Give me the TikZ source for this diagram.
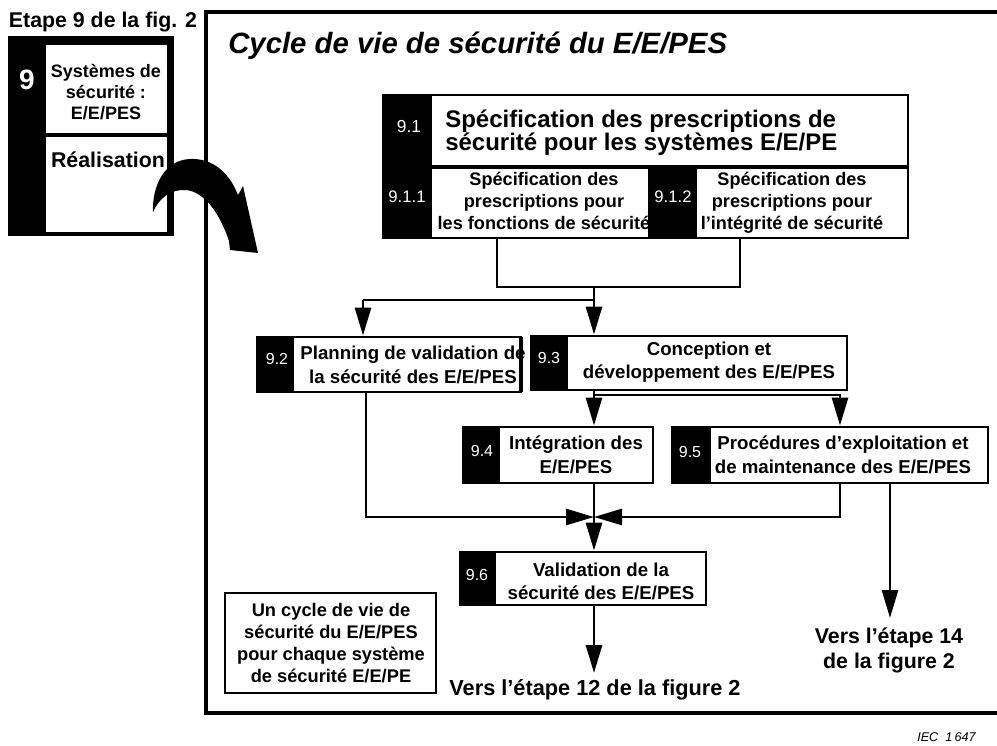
\documentclass[tikz,border=0pt]{standalone}
\usepackage{fontspec}
\setmainfont{Liberation Sans}
\usetikzlibrary{fit,arrows.meta}
\lineskiplimit=-100pt
\lineskip=0pt
\begin{document}
\begin{tikzpicture}[x=0.75pt,y=-0.75pt,
  wbox/.style={draw=black, fill=white, line width=2.2pt, inner sep=0pt},
  bbox/.style={draw=black, fill=black, line width=2.2pt, inner sep=0pt},
  num/.style={text=white, font=\fontsize{12}{14}\selectfont, inner sep=0pt},
  txt/.style={font=\bfseries\fontsize{14}{17.25}\selectfont, align=center, inner sep=0pt},
  conn/.style={line width=2.1pt},
  arr/.style={line width=2.1pt, -{Triangle[length=21pt,width=12pt]}},
]
\useasboundingbox (0,0) rectangle (997,746);

% outer frame
\node[draw=black, line width=2.4pt, inner sep=0pt, fit={(206,12) (1012,713)}] (frame) {};

% left block (step 9 of fig. 2)
\node[font=\bfseries\fontsize{16}{18}\selectfont, inner sep=0pt] (etape) at (103,22) {Etape 9 de la fig. 2};
\node[bbox, fit={(9,37) (173,235)}] (n9) {};
\node[fill=white, inner sep=0pt, fit={(46,45) (167,133)}] (n9a) {};
\node[fill=white, inner sep=0pt, fit={(46,137) (167,232)}] (n9b) {};
\node[text=white, font=\bfseries\fontsize{21}{24}\selectfont, inner sep=0pt] (l9) at (27,80) {9};
\node[font=\bfseries\fontsize{13.5}{15.75}\selectfont, align=center, inner sep=0pt] (t9a) at (106,92) {Systèmes de\\sécurité :\\E/E/PES};
\node[font=\bfseries\fontsize{16}{18}\selectfont, inner sep=0pt] (t9b) at (108,160) {Réalisation};

% big curved arrow
\fill[black] (153,212) .. controls (152,185) and (165,160) .. (190,159)
  .. controls (212,158) and (229,172) .. (238,195) -- (243,186) -- (258,253)
  -- (230,250) -- (229,241) .. controls (220,214) and (205,192) .. (186,190)
  .. controls (171,189) and (159,198) .. (153,212) -- cycle;

% title
\node[anchor=west, font=\bfseries\itshape\fontsize{22}{26}\selectfont, inner sep=0pt] (title) at (228,46) {Cycle de vie de sécurité du E/E/PES};

% 9.1
\node[wbox, fit={(383,95) (908,238)}] (n91) {};
\node[bbox, fit={(383,95) (431,238)}] (l91) {};
\node[bbox, fit={(383,166) (908,168)}] (d91) {};
\node[bbox, fit={(649,167) (696,238)}] (l912) {};
\node[text=white, font=\fontsize{13}{15}\selectfont, inner sep=0pt] (k91) at (409,127) {9.1};
\node[text=white, font=\fontsize{12.5}{15}\selectfont, inner sep=0pt] (k911) at (407,197) {9.1.1};
\node[text=white, font=\fontsize{12.5}{15}\selectfont, inner sep=0pt] (k912) at (673,197) {9.1.2};
\node[anchor=west, align=left, font=\bfseries\fontsize{18}{17.25}\selectfont, inner sep=0pt] (t91) at (445,133) {Spécification des prescriptions de\\sécurité pour les systèmes E/E/PE};
\node[align=center, font=\bfseries\fontsize{13.6}{16.5}\selectfont, inner sep=0pt] (t911) at (544,201) {Spécification des\\prescriptions pour\\les fonctions de sécurité};
\node[align=center, font=\bfseries\fontsize{13.6}{16.5}\selectfont, inner sep=0pt] (t912) at (792,203) {Spécification des\\prescriptions pour\\l'intégrité de sécurité};

% 9.2
\node[wbox, fit={(257,337) (521,392)}] (n92) {};
\node[bbox, fit={(257,337) (293,392)}] (l92) {};
\node[num] (k92) at (277,359) {9.2};
\node[txt, font=\bfseries\fontsize{14}{18}\selectfont] (t92) at (413,365) {Planning de validation de\\la sécurité des E/E/PES};
\fill[black] (519,337) rectangle (523,392);

% 9.3
\node[wbox, fit={(531,336) (847,390)}] (n93) {};
\node[bbox, fit={(531,336) (567,390)}] (l93) {};
\node[num] (k93) at (549,358) {9.3};
\node[txt] (t93) at (709,362) {Conception et\\développement des E/E/PES};

% 9.4
\node[wbox, fit={(463,427) (653,483)}] (n94) {};
\node[bbox, fit={(463,427) (499,483)}] (l94) {};
\node[num] (k94) at (482,451) {9.4};
\node[txt, font=\bfseries\fontsize{14}{18}\selectfont] (t94) at (576,455) {Intégration des\\E/E/PES};

% 9.5
\node[wbox, fit={(672,427) (988,483)}] (n95) {};
\node[bbox, fit={(672,427) (710,483)}] (l95) {};
\node[num] (k95) at (690,452) {9.5};
\node[txt, font=\bfseries\fontsize{14}{18}\selectfont] (t95) at (843,455) {Procédures d'exploitation et\\de maintenance des E/E/PES};

% 9.6
\node[wbox, fit={(460,552) (706,605)}] (n96) {};
\node[bbox, fit={(460,552) (495,605)}] (l96) {};
\node[num] (k96) at (477,575) {9.6};
\node[txt] (t96) at (601,581) {Validation de la\\sécurité des E/E/PES};

% note box
\node[wbox, fit={(225,593) (436,693)}] (note) {};
\node[align=center, font=\bfseries\fontsize{13.7}{16.5}\selectfont, inner sep=0pt] (tnote) at (331,643) {Un cycle de vie de\\sécurité du E/E/PES\\pour chaque système\\de sécurité E/E/PE};

% exits
\node[font=\bfseries\fontsize{16.3}{19}\selectfont, inner sep=0pt] (v12) at (595,690) {Vers l'étape 12 de la figure 2};
\node[align=center, font=\bfseries\fontsize{16}{18.75}\selectfont, inner sep=0pt] (v14) at (889,650) {Vers l'étape 14\\de la figure 2};
\node[anchor=west, font=\itshape\fontsize{9.5}{11}\selectfont, inner sep=0pt] (iec) at (917,737) {IEC\ \ 1\,647};

% junction coordinates
\coordinate (L1) at (497,287);
\coordinate (R1) at (740,287);
\coordinate (J1) at (594,287);
\coordinate (J2) at (594,300);
\coordinate (S2) at (363,300);
\coordinate (J3) at (594,395);
\coordinate (R3) at (840,395);
\coordinate (X)  at (594,517);
\coordinate (L2) at (366,517);
\coordinate (R5) at (840,517);
\coordinate (R6) at (890,618);
\coordinate (E12) at (594,673);

% connectors
\draw[conn] (n91.south -| L1) -- (L1) -- (R1) -- (n91.south -| R1);
\draw[conn] (J1) -- (J2) -- (S2);
\draw[arr] (S2) -- (n92.north -| S2);
\draw[arr] (J2) -- (n93.north -| J2);
\draw[arr] (n93.south -| J3) -- (n94.north -| J3);
\draw[arr] (J3) -- (R3) -- (n95.north -| R3);
\draw[conn] (n94.south -| X) -- (X);
\draw[arr] (n92.south -| L2) -- (L2) -- (X);
\draw[arr] (n95.south -| R5) -- (R5) -- (X);
\draw[arr] (X) -- (n96.north -| X);
\draw[arr] (n96.south -| E12) -- (E12);
\draw[arr] (n95.south -| R6) -- (R6);
\end{tikzpicture}
\end{document}
